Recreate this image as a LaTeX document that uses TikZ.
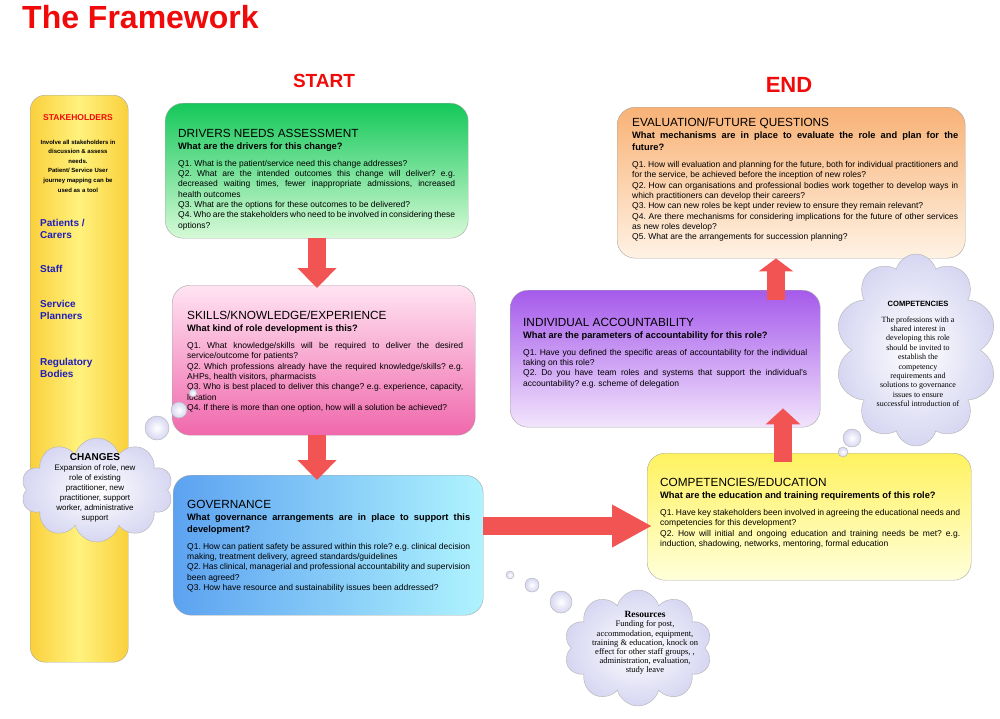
\documentclass[tikz,border=0pt]{standalone}
\usepackage{fontspec}
\setmainfont{Liberation Sans}
\newfontfamily\timesfont{Liberation Serif}
\usetikzlibrary{arrows.meta,shapes.symbols}
\setlength{\parindent}{0pt}
\hyphenpenalty=10000
\exhyphenpenalty=10000
\emergencystretch=20pt
\frenchspacing

\definecolor{framered}{RGB}{240,10,10}
\definecolor{arrowred}{RGB}{242,84,84}
\definecolor{stakeblue}{RGB}{30,30,190}
\definecolor{stakeyellow}{RGB}{250,208,60}
\definecolor{stakelight}{RGB}{255,242,125}
\definecolor{cloudblue}{RGB}{214,214,242}
\definecolor{greentop}{RGB}{20,200,90}
\definecolor{greenbot}{RGB}{215,250,215}
\definecolor{pinktop}{RGB}{255,228,242}
\definecolor{pinkbot}{RGB}{240,104,172}
\definecolor{blueleft}{RGB}{92,162,240}
\definecolor{blueright}{RGB}{175,243,255}
\definecolor{orangetop}{RGB}{248,178,118}
\definecolor{orangebot}{RGB}{255,242,228}
\definecolor{purpletop}{RGB}{165,90,235}
\definecolor{purplebot}{RGB}{242,228,252}
\definecolor{yellowtop}{RGB}{255,242,95}
\definecolor{yellowbot}{RGB}{255,255,218}

\newcommand{\boxhead}[2]{{\fontsize{11.8}{12}\selectfont #1\par}%
  {\bfseries\fontsize{9.3}{12}\selectfont #2\par}\vspace{6.5pt}}

\tikzset{
  framebox/.style={draw=black!35, rounded corners=18pt, anchor=north west, inner sep=0pt},
  boxtext/.style={anchor=north west, inner sep=0pt, align=justify, font=\fontsize{8.5}{10.3}\selectfont},
  blockarrow/.style={draw=arrowred, line width=18pt, -{Triangle[width=38pt,length=20pt]}},
  thoughtcloud/.style={cloud, cloud puffs=10, cloud ignores aspect, draw=black!30, inner color=white, outer color=cloudblue},
  bubble/.style={circle, draw=black!30, inner color=white, outer color=cloudblue, inner sep=0pt},
  cloudtext/.style={align=center, inner sep=0pt},
  stakelabel/.style={anchor=west, align=left, text=stakeblue, inner sep=0pt, font=\bfseries\fontsize{10}{12}\selectfont}
}

\begin{document}
\begin{tikzpicture}[x=1pt,y=-1pt]
\useasboundingbox (0,0) rectangle (1000,718);
\fill[white] (0,0) rectangle (1000,718);

% headings
\node[anchor=base west, inner sep=0pt, text=framered, font=\bfseries\fontsize{32}{36}\selectfont] (title) at (22,28) {The Framework};
\node[anchor=base, inner sep=0pt, text=framered, font=\bfseries\fontsize{19}{22}\selectfont] (startlabel) at (324,87) {START};
\node[anchor=base, inner sep=0pt, text=framered, font=\bfseries\fontsize{22}{24}\selectfont] (endlabel) at (789,92) {END};

% stakeholders column
\node[framebox, rounded corners=15pt, left color=stakeyellow, right color=stakeyellow, middle color=stakelight, minimum width=98pt, minimum height=567pt] (stake) at (30,95) {};
\node[inner sep=0pt, text=framered, font=\bfseries\fontsize{8.5}{10}\selectfont] (stakehead) at (78,118) {STAKEHOLDERS};
\node[cloudtext, font=\bfseries\fontsize{6}{9.6}\selectfont] (stakeintro) at (78,166) {Involve all stakeholders in\\discussion \& assess\\needs.\\Patient/ Service User\\journey mapping can be\\used as a tool};
\node[stakelabel] (patients) at (40,229) {Patients /\\Carers};
\node[stakelabel] (staff) at (40,269) {Staff};
\node[stakelabel] (planners) at (40,310) {Service\\Planners};
\node[stakelabel] (regulatory) at (40,368) {Regulatory\\Bodies};

% question boxes
\node[framebox, top color=greentop, bottom color=greenbot, minimum width=303pt, minimum height=135pt] (drivers) at (165,103) {};
\node[framebox, top color=pinktop, bottom color=pinkbot, minimum width=303pt, minimum height=150pt] (skills) at (172,285) {};
\node[framebox, left color=blueleft, right color=blueright, minimum width=310pt, minimum height=140pt] (governance) at (173,475) {};
\node[framebox, top color=orangetop, bottom color=orangebot, minimum width=348pt, minimum height=151pt] (eval) at (617,107) {};
\node[framebox, top color=purpletop, bottom color=purplebot, minimum width=310pt, minimum height=137pt] (acc) at (510,290) {};
\node[framebox, top color=yellowtop, bottom color=yellowbot, minimum width=324pt, minimum height=127pt] (comp) at (647,453) {};

\node[boxtext, text width=277pt] (driverstext) at ([xshift=13pt,yshift=-26pt]drivers.north west) {\boxhead{DRIVERS NEEDS ASSESSMENT}{What are the drivers for this change?}
Q1. What is the patient/service need this change addresses?\par
Q2. What are the intended outcomes this change will deliver? e.g. decreased waiting times, fewer inappropriate admissions, increased\linebreak health outcomes\par
Q3. What are the options for these outcomes to be delivered?\par
Q4. Who are the stakeholders who need to be involved in considering these options?};

\node[boxtext, text width=276pt] (skillstext) at ([xshift=15pt,yshift=-26pt]skills.north west) {\boxhead{SKILLS/KNOWLEDGE/EXPERIENCE}{What kind of role development is this?}
Q1. What knowledge/skills will be required to deliver the desired service/outcome for patients?\par
Q2. Which professions already have the required knowledge/skills? e.g. AHPs, health visitors, pharmacists\par
Q3. Who is best placed to deliver this change? e.g. experience, capacity, location\par
Q4. If there is more than one option, how will a solution be achieved?};

\node[boxtext, text width=283pt] (governancetext) at ([xshift=14pt,yshift=-25pt]governance.north west) {\boxhead{GOVERNANCE}{What governance arrangements are in place to support this development?}
Q1. How can patient safety be assured within this role? e.g. clinical decision making, treatment delivery, agreed standards/guidelines\par
Q2. Has clinical, managerial and professional accountability and supervision been agreed?\par
Q3. How have resource and sustainability issues been addressed?};

\node[boxtext, text width=326pt] (evaltext) at ([xshift=15pt,yshift=-11pt]eval.north west) {\boxhead{EVALUATION/FUTURE QUESTIONS}{What mechanisms are in place to evaluate the role and plan for the\linebreak future?}
Q1. How will evaluation and planning for the future, both for individual practitioners and for the service, be achieved before the inception of new roles?\par
Q2. How can organisations and professional bodies work together to develop ways in which practitioners can develop their careers?\par
Q3. How can new roles be kept under review to ensure they remain relevant?\par
Q4. Are there mechanisms for considering implications for the future of other services as new roles develop?\par
Q5. What are the arrangements for succession planning?};

\node[boxtext, text width=284pt] (acctext) at ([xshift=13pt,yshift=-28pt]acc.north west) {\boxhead{INDIVIDUAL ACCOUNTABILITY}{What are the parameters of accountability for this role?}
Q1. Have you defined the specific areas of accountability for the individual taking on this role?\par
Q2. Do you have team roles and systems that support the individual's accountability? e.g. scheme of delegation};

\node[boxtext, text width=300pt] (comptext) at ([xshift=13pt,yshift=-25pt]comp.north west) {\boxhead{COMPETENCIES/EDUCATION}{What are the education and training requirements of this role?}
Q1. Have key stakeholders been involved in agreeing the educational needs and competencies for this development?\par
Q2. How will initial and ongoing education and training needs be met? e.g. induction, shadowing, networks, mentoring, formal education};

% arrows
\coordinate (downline) at (317,0);
\coordinate (rightline) at (0,526);
\coordinate (upline) at (783,0);
\coordinate (upline2) at (776,0);
\draw[blockarrow, shorten >=-3pt] (drivers.south -| downline) -- (skills.north -| downline);
\draw[blockarrow, shorten >=-5pt] (skills.south -| downline) -- (governance.north -| downline);
\draw[blockarrow, -{Triangle[width=40pt,length=40pt]}, shorten >=-5pt] (governance.east |- rightline) -- (comp.west |- rightline);
\draw[blockarrow, -{Triangle[width=34pt,length=16pt]}, shorten <=-9pt, shorten >=-19pt] (comp.north -| upline) -- (acc.south -| upline);
\draw[blockarrow, -{Triangle[width=34pt,length=13pt]}, shorten <=-10pt] (acc.north -| upline2) -- (eval.south -| upline2);

% thought clouds
\node[thoughtcloud, minimum width=152pt, minimum height=104pt] (changescloud) at (97,490) {};
\node[bubble, minimum size=24pt] (changesbubA) at (157,428) {};
\node[bubble, minimum size=16pt] (changesbubB) at (179,410) {};
\node[bubble, minimum size=8pt] (changesbubC) at (193,393) {};
\node[cloudtext, font=\fontsize{8}{10}\selectfont] (changestext) at (95,488) {{\bfseries\fontsize{10}{12}\selectfont CHANGES}\\Expansion of role, new\\role of existing\\practitioner, new\\practitioner, support\\worker, administrative\\support};

\node[thoughtcloud, minimum width=162pt, minimum height=192pt] (compcloud) at (916,350) {};
\node[bubble, minimum size=18pt] (compbubA) at (852,438) {};
\node[bubble, minimum size=10pt] (compbubB) at (843,452) {};
\node[cloudtext, font=\timesfont\fontsize{8}{9.4}\selectfont] (compcloudtext) at (918,354) {{\normalfont\bfseries\fontsize{7.6}{9}\selectfont COMPETENCIES}\\[6pt]The professions with a\\shared interest in\\developing this role\\should be invited to\\establish the\\competency\\requirements and\\solutions to governance\\issues to ensure\\successful introduction of};

\node[thoughtcloud, minimum width=148pt, minimum height=116pt] (rescloud) at (638,648) {};
\node[bubble, minimum size=22pt] (resbubA) at (561,602) {};
\node[bubble, minimum size=14pt] (resbubB) at (532,585) {};
\node[bubble, minimum size=8pt] (resbubC) at (510,575) {};
\node[cloudtext, font=\timesfont\fontsize{8.5}{9.2}\selectfont] (restext) at (645,643) {{\bfseries\fontsize{9.5}{10}\selectfont Resources}\\Funding for post,\\accommodation, equipment,\\training \& education, knock on\\effect for other staff groups, ,\\administration, evaluation,\\study leave};
\end{tikzpicture}
\end{document}
